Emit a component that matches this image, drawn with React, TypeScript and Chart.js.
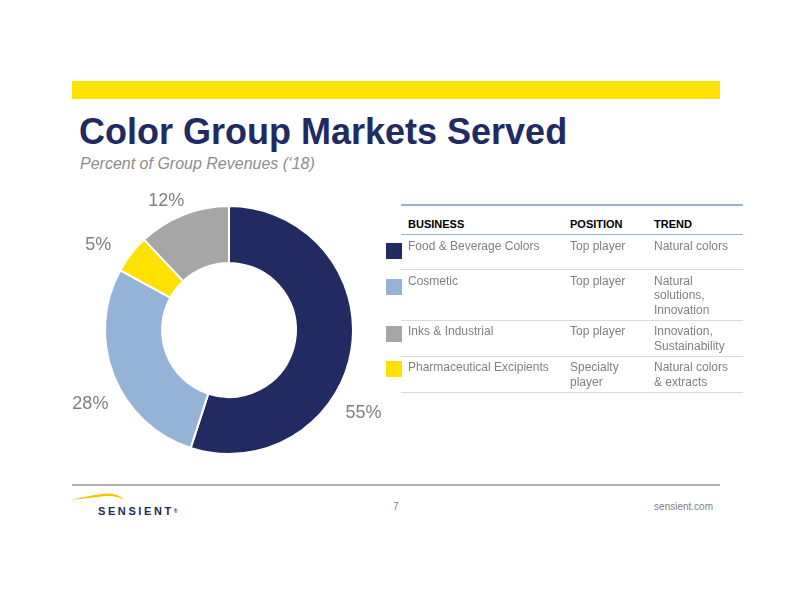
import React, { useEffect, useRef } from "react";
import { Chart, registerables } from "chart.js";

Chart.register(...registerables);

const segments = ["Food & Beverage Colors", "Cosmetic", "Pharmaceutical Excipients", "Inks & Industrial"];
const segmentValues = [55, 28, 5, 12];
const segmentColors = ["#222b61", "#95b3d7", "#ffe100", "#a6a6a6"];

const businesses = ["Food & Beverage Colors", "Cosmetic", "Inks & Industrial", "Pharmaceutical Excipients"];
const positions = [["Top player"], ["Top player"], ["Top player"], ["Specialty", "player"]];
const trends = [["Natural colors"], ["Natural", "solutions,", "Innovation"], ["Innovation,", "Sustainability"], ["Natural colors", "& extracts"]];
const rowColors = ["#222b61", "#95b3d7", "#a6a6a6", "#ffe100"];
const headers = ["BUSINESS", "POSITION", "TREND"];

// label placement styling (angle nudge in degrees, distance beyond outer radius)
const labelNudge = [22.6, -6.4, -4.8, -4.4];
const labelGap = [34, 33, 32, 19];
const squareOffsets = [8, 9, 5, 4.5];

const FONT = "'Liberation Sans', Arial, sans-serif";

const labelPlugin = {
  id: "outerLabels",
  afterDraw(chart: any) {
    const ctx = chart.ctx;
    const meta = chart.getDatasetMeta(0);
    const data = chart.data.datasets[0].data as number[];
    ctx.save();
    ctx.font = `18px ${FONT}`;
    ctx.fillStyle = "#7f7f7f";
    ctx.textAlign = "center";
    ctx.textBaseline = "middle";
    meta.data.forEach((arc: any, i: number) => {
      const p = arc.getProps(["x", "y", "startAngle", "endAngle", "outerRadius"], true);
      const mid = (p.startAngle + p.endAngle) / 2 + (labelNudge[i] * Math.PI) / 180;
      const r = p.outerRadius + labelGap[i];
      ctx.fillText(`${data[i]}%`, p.x + Math.cos(mid) * r, p.y + Math.sin(mid) * r);
    });
    ctx.restore();
  },
};

function Donut() {
  const ref = useRef<HTMLCanvasElement>(null);
  useEffect(() => {
    if (!ref.current) return;
    const chart = new Chart(ref.current, {
      type: "doughnut",
      data: {
        labels: segments,
        datasets: [
          {
            data: segmentValues,
            backgroundColor: segmentColors,
            borderColor: "#ffffff",
            borderWidth: 2,
          },
        ],
      },
      options: {
        animation: false,
        responsive: false,
        cutout: "54%",
        layout: { padding: { left: 25, right: 25, top: 25, bottom: 25 } },
        plugins: { legend: { display: false }, tooltip: { enabled: false } },
      },
      plugins: [labelPlugin],
    });
    return () => chart.destroy();
  }, []);
  return (
    <canvas
      ref={ref}
      width={340}
      height={300}
      style={{ position: "absolute", left: 59, top: 180, width: 340, height: 300 }}
    />
  );
}

export default function App() {
  const colX = [7, 169, 253];
  return (
    <div
      style={{
        position: "absolute",
        left: 0,
        top: 0,
        width: 792,
        height: 612,
        background: "#ffffff",
        fontFamily: FONT,
        overflow: "hidden",
      }}
    >
      <div style={{ position: "absolute", left: 72, top: 81, width: 648, height: 18, background: "#ffe100" }} />
      <div
        style={{
          position: "absolute",
          left: 79,
          top: 112,
          fontSize: 36,
          fontWeight: "bold",
          color: "#222b61",
          lineHeight: "40px",
          whiteSpace: "nowrap",
        }}
      >
        Color Group Markets Served
      </div>
      <div
        style={{
          position: "absolute",
          left: 80,
          top: 154,
          fontSize: 16,
          fontStyle: "italic",
          color: "#8c8c8c",
          lineHeight: "20px",
          whiteSpace: "nowrap",
        }}
      >
        Percent of Group Revenues (‘18)
      </div>

      <Donut />

      {/* table */}
      <div style={{ position: "absolute", left: 401, top: 204, width: 342 }}>
        <div style={{ height: 1.5, background: "#95b3d7" }} />
        <div style={{ position: "relative", height: 28 }}>
          {headers.map((h, i) => (
            <div
              key={h}
              style={{
                position: "absolute",
                left: colX[i],
                top: 11,
                fontSize: 11,
                fontWeight: "bold",
                color: "#000",
                lineHeight: "14px",
              }}
            >
              {h}
            </div>
          ))}
        </div>
        <div style={{ height: 1.5, background: "#95b3d7" }} />
        {businesses.map((b, r) => {
          const cols = [[b], positions[r], trends[r]];
          const lines = Math.max(...cols.map((c) => c.length));
          const h = Math.max(35, 7 + lines * 14.5);
          return (
            <div key={b}>
              <div style={{ position: "relative", height: h - 1 }}>
                <div
                  style={{
                    position: "absolute",
                    left: -15,
                    top: squareOffsets[r],
                    width: 16,
                    height: 16,
                    background: rowColors[r],
                  }}
                />
                {cols.map((c, i) => (
                  <div
                    key={i}
                    style={{
                      position: "absolute",
                      left: colX[i],
                      top: 3.5,
                      fontSize: 12,
                      color: "#808080",
                      lineHeight: "14.5px",
                      whiteSpace: "nowrap",
                    }}
                  >
                    {c.map((t, k) => (
                      <div key={k}>{t}</div>
                    ))}
                  </div>
                ))}
              </div>
              <div style={{ height: 1, background: "#d9d9d9" }} />
            </div>
          );
        })}
      </div>

      {/* footer */}
      <div style={{ position: "absolute", left: 72, top: 484, width: 648, height: 2, background: "#b4b4b4" }} />
      <svg style={{ position: "absolute", left: 66, top: 488 }} width={70} height={20}>
        <path d="M5 12 Q 24 7 40 5.5 Q 53 5 58 12 Q 51 7.5 40 8 Q 24 10 5 12 Z" fill="#f5c400" />
      </svg>
      <div
        style={{
          position: "absolute",
          left: 98,
          top: 504,
          fontSize: 11,
          fontWeight: "bold",
          color: "#222b61",
          letterSpacing: 2.6,
          lineHeight: "14px",
          whiteSpace: "nowrap",
        }}
      >
        SENSIENT<span style={{ fontSize: 5, verticalAlign: "top", letterSpacing: 0 }}>®</span>
      </div>
      <div style={{ position: "absolute", left: 393, top: 500, fontSize: 10, color: "#808080", lineHeight: "14px" }}>7</div>
      <div
        style={{
          position: "absolute",
          right: 792 - 713,
          top: 500,
          fontSize: 10,
          color: "#808080",
          lineHeight: "14px",
          whiteSpace: "nowrap",
        }}
      >
        sensient.com
      </div>
    </div>
  );
}
